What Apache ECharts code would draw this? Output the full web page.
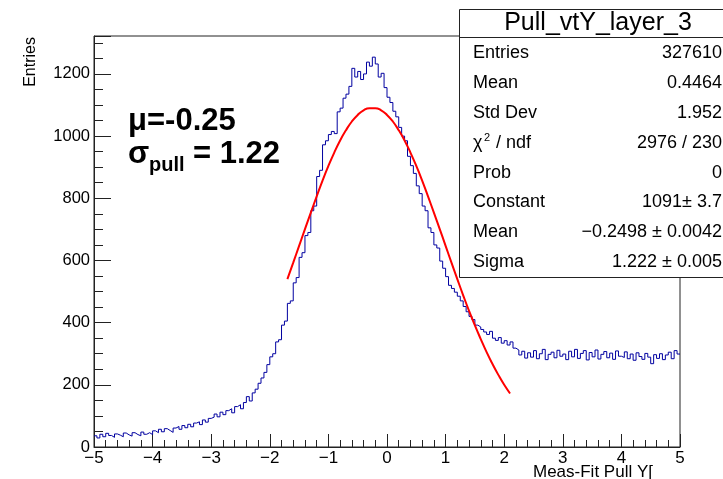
<!DOCTYPE html>
<html>
<head>
<meta charset="utf-8">
<script src="https://cdn.jsdelivr.net/npm/echarts@6/dist/echarts.min.js"></script>
<style>
  html, body { margin: 0; padding: 0; background: #fff; }
  #main { width: 723px; height: 479px; }
</style>
</head>
<body>
<div id="main"></div>
<script>
// histogram: 200 bins of 0.05 from -5 to 5 (counts)
var binLow = -5;
var binWidth = 0.05;
var counts = [
  36, 29, 41, 33, 44, 37, 31, 42, 38, 33, 45, 39, 35, 46, 40, 36, 48, 41, 46, 40,
  52, 46, 57, 49, 59, 53, 47, 61, 66, 57, 69, 62, 73, 65, 77, 81, 72, 87, 80, 92,
  96, 106, 97, 112, 104, 117, 123, 110, 130, 136, 123, 143, 162, 148, 174, 186, 205, 222, 240, 265,
  290, 300, 338, 345, 392, 405, 462, 470, 528, 545, 610, 625, 680, 690, 760, 775, 870, 890, 972, 985,
  1005, 1015, 1008, 1078, 1090, 1122, 1135, 1160, 1218, 1190, 1208, 1182, 1200, 1238, 1225, 1254, 1232, 1190, 1202, 1156,
  1125, 1108, 1080, 1062, 1028, 1000, 985, 935, 905, 880, 840, 815, 775, 760, 705, 690, 650, 640, 598, 575,
  548, 520, 510, 498, 485, 470, 452, 435, 420, 410, 392, 386, 378, 370, 362, 372, 350, 343, 352, 334,
  342, 328, 338, 318, 312, 296, 308, 286, 303, 289, 310, 284, 300, 314, 281, 298, 305, 287, 311, 292,
  299, 281, 308, 290, 314, 285, 301, 310, 280, 304, 290, 312, 283, 298, 307, 287, 302, 282, 309, 292,
  288, 306, 284, 299, 279, 303, 291, 282, 301, 289, 268, 297, 285, 300, 281, 296, 305, 284, 310, 299
];

// gaussian fit drawn from -1.7 to 2.1, step 0.1
var fitStart = -1.7;
var fitStep = 0.1;
var fitValues = [
  540, 593, 647, 701, 754, 806, 857, 904, 947, 986,
  1019, 1047, 1068, 1083, 1090, 1090, 1083, 1068, 1047, 1019,
  986, 947, 904, 857, 806, 754, 701, 647, 593, 540,
  488, 438, 391, 347, 305, 267, 232, 200, 172
];

var statLabels = ['Entries', 'Mean', 'Std Dev', '', 'Prob', 'Constant', 'Mean', 'Sigma'];
var statValues = ['327610', '0.4464', '1.952', '2976 / 230', '0', '1091\u00b1 3.7', '\u22120.2498 \u00b1 0.0042', '1.222 \u00b1 0.005'];

var histData = [];
for (var i = 0; i < counts.length; i++) {
  histData.push([binLow + i * binWidth, counts[i]]);
}
histData.push([binLow + counts.length * binWidth, counts[counts.length - 1]]);

var fitData = [];
for (var j = 0; j < fitValues.length; j++) {
  fitData.push([+(fitStart + j * fitStep).toFixed(2), fitValues[j]]);
}

var font = '"Liberation Sans", Arial, Helvetica, sans-serif';

var graphics = [];
// stats box
graphics.push({
  type: 'rect', z: 100,
  shape: { x: 459.5, y: 9.5, width: 300, height: 268 },
  style: { fill: '#fff', stroke: '#222', lineWidth: 1 }
});
graphics.push({
  type: 'line', z: 101,
  shape: { x1: 459.5, y1: 37.5, x2: 723, y2: 37.5 },
  style: { stroke: '#222', lineWidth: 1 }
});
graphics.push({
  type: 'text', z: 102, x: 598, y: 23,
  style: { text: 'Pull_vtY_layer_3', font: '25px ' + font, fill: '#000', align: 'center', verticalAlign: 'middle' }
});
for (var k = 0; k < statLabels.length; k++) {
  var yy = 53 + k * 29.9;
  if (statLabels[k]) {
    graphics.push({
      type: 'text', z: 102, x: 473, y: yy,
      style: { text: statLabels[k], font: '18px ' + font, fill: '#000', align: 'left', verticalAlign: 'middle' }
    });
  }
  graphics.push({
    type: 'text', z: 102, x: 722, y: yy,
    style: { text: statValues[k], font: '18px ' + font, fill: '#000', align: 'right', verticalAlign: 'middle' }
  });
}
// chi2 / ndf label
graphics.push({
  type: 'text', z: 102, x: 473, y: 143,
  style: { text: '\u03c7', font: '18px ' + font, fill: '#000', align: 'left', verticalAlign: 'middle' }
});
graphics.push({
  type: 'text', z: 102, x: 484, y: 138,
  style: { text: '2', font: '11px ' + font, fill: '#000', align: 'left', verticalAlign: 'middle' }
});
graphics.push({
  type: 'text', z: 102, x: 496, y: 143,
  style: { text: '/ ndf', font: '18px ' + font, fill: '#000', align: 'left', verticalAlign: 'middle' }
});

// annotation
graphics.push({
  type: 'text', z: 50, x: 128, y: 121,
  style: { text: '\u03bc=-0.25', font: 'bold 31px ' + font, fill: '#000', align: 'left', verticalAlign: 'middle' }
});
graphics.push({
  type: 'text', z: 50, x: 128, y: 154,
  style: { text: '\u03c3', font: 'bold 31px ' + font, fill: '#000', align: 'left', verticalAlign: 'middle' }
});
graphics.push({
  type: 'text', z: 50, x: 149, y: 165,
  style: { text: 'pull', font: 'bold 20px ' + font, fill: '#000', align: 'left', verticalAlign: 'middle' }
});
graphics.push({
  type: 'text', z: 50, x: 193, y: 154,
  style: { text: '= 1.22', font: 'bold 31px ' + font, fill: '#000', align: 'left', verticalAlign: 'middle' }
});

// axis titles
graphics.push({
  type: 'text', z: 50, x: 31, y: 37, rotation: Math.PI / 2,
  style: { text: 'Entries', font: '16px ' + font, fill: '#000', align: 'right', verticalAlign: 'middle' }
});
graphics.push({
  type: 'text', z: 50, x: 533, y: 472,
  style: { text: 'Meas-Fit Pull Y[', font: '17px ' + font, fill: '#000', align: 'left', verticalAlign: 'middle' }
});

var chart = echarts.init(document.getElementById('main'), null, { renderer: 'canvas' });

var option = {
  animation: false,
  backgroundColor: '#fff',
  textStyle: { fontFamily: font },
  grid: {
    left: 94, right: 43, top: 36, bottom: 32,
    show: true, borderColor: '#222', borderWidth: 1, backgroundColor: 'transparent'
  },
  xAxis: {
    type: 'value', min: -5, max: 5, interval: 1,
    axisLine: { show: true, onZero: false, lineStyle: { color: '#222', width: 1 } },
    axisTick: { show: true, inside: true, length: 13, lineStyle: { color: '#222' } },
    minorTick: { show: true, splitNumber: 5, length: 7, lineStyle: { color: '#222' } },
    splitLine: { show: false },
    axisLabel: {
      color: '#000', fontSize: 17, margin: 3, fontFamily: font,
      formatter: function (v) { return String(v).replace('-', '\u2212'); }
    }
  },
  yAxis: [{
    type: 'value', min: 0, max: 1322, interval: 50,
    axisLine: { show: true, onZero: false, lineStyle: { color: '#222', width: 1 } },
    axisTick: { show: true, inside: true, length: 9, lineStyle: { color: '#222' } },
    splitLine: { show: false },
    axisLabel: {
      color: '#000', fontSize: 16.5, margin: 4, fontFamily: font, showMaxLabel: false,
      formatter: function (v) { return v % 200 === 0 ? String(v) : ''; }
    }
  }, {
    type: 'value', min: 0, max: 1322, interval: 200, position: 'left',
    axisLine: { show: false, onZero: false },
    axisTick: { show: true, inside: true, length: 17, lineStyle: { color: '#222' } },
    splitLine: { show: false },
    axisLabel: { show: false }
  }],
  series: [{
    type: 'line',
    data: histData,
    step: 'end',
    showSymbol: false,
    yAxisIndex: 0,
    lineStyle: { color: '#0000a0', width: 1 },
    z: 3
  }, {
    type: 'line',
    data: fitData,
    smooth: true,
    showSymbol: false,
    yAxisIndex: 0,
    lineStyle: { color: '#ff0000', width: 2 },
    z: 4
  }],
  graphic: graphics
};

chart.setOption(option);
</script>
</body>
</html>
